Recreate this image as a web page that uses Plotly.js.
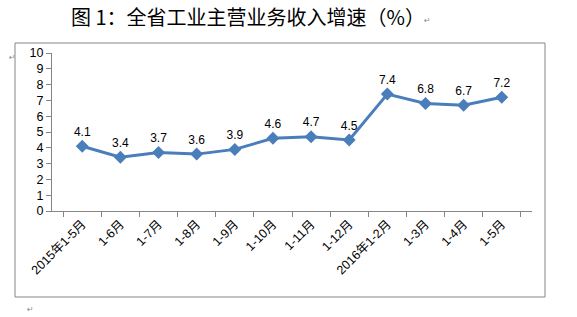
<!DOCTYPE html>
<html><head><meta charset="utf-8">
<script src="https://cdn.plot.ly/plotly-3.0.1.min.js"></script>
<style>html,body{margin:0;padding:0;background:#fff;}#chart{width:577px;height:317px;}</style>
</head><body><div id="chart"></div>
<script>
const categories = ["2015年1-5月","1-6月","1-7月","1-8月","1-9月","1-10月","1-11月","1-12月","2016年1-2月","1-3月","1-4月","1-5月"];
const growth = [4.1, 3.4, 3.7, 3.6, 3.9, 4.6, 4.7, 4.5, 7.4, 6.8, 6.7, 7.2];
const yTicks = [0,1,2,3,4,5,6,7,8,9,10];
const titleText = "图 1：全省工业主营业务收入增速（%）";

const fontFam = "Liberation Sans, Noto Sans CJK SC, sans-serif";
const trace = {
  x: categories, y: growth, type: "scatter", mode: "lines+markers+text",
  line: {color: "#4a7ebb", width: 3},
  marker: {symbol: "diamond", size: 10, color: "#4a7ebb"},
  text: growth.map(v => v.toFixed(1)),
  textposition: "top center",
  textfont: {family: fontFam, size: 12, color: "#000"},
  cliponaxis: false, hoverinfo: "none"
};
const layout = {
  width: 577, height: 317,
  margin: {l: 52, r: 45, t: 53, b: 106},
  paper_bgcolor: "#fff", plot_bgcolor: "#fff",
  showlegend: false,
  font: {family: fontFam, size: 12, color: "#000"},
  xaxis: {type: "category", tickangle: -45, showgrid: false, showline: true,
    linecolor: "#868686", linewidth: 1, ticks: "outside", ticklen: 5, tickcolor: "#868686",
    tickson: "boundaries", tickfont: {family: fontFam, size: 12.5, color: "#000"}, fixedrange: true},
  yaxis: {range: [0, 10], tickvals: yTicks, showgrid: false, zeroline: false, showline: true,
    linecolor: "#868686", linewidth: 1, ticks: "outside", ticklen: 5, tickcolor: "#868686",
    tickfont: {family: fontFam, size: 12.5, color: "#000"}, fixedrange: true},
  annotations: [
    {text: titleText, xref: "paper", yref: "paper", x: (248-52)/480, y: (211-17)/158,
     xanchor: "center", yanchor: "middle", showarrow: false,
     font: {family: "Noto Sans CJK SC", size: 20, color: "#000"}},
    {text: "↵", xref: "paper", yref: "paper", x: (427-52)/480, y: (211-20)/158,
     xanchor: "center", yanchor: "middle", showarrow: false,
     font: {family: "DejaVu Sans", size: 8, color: "#888"}},
    {text: "↵", xref: "paper", yref: "paper", x: (12-52)/480, y: (211-57)/158,
     xanchor: "center", yanchor: "middle", showarrow: false,
     font: {family: "DejaVu Sans", size: 8, color: "#888"}},
    {text: "↵", xref: "paper", yref: "paper", x: (30-52)/480, y: (211-309)/158,
     xanchor: "center", yanchor: "middle", showarrow: false,
     font: {family: "DejaVu Sans", size: 8, color: "#888"}}
  ],
  shapes: [
    {type: "rect", xref: "paper", yref: "paper", x0: (15-52)/480, x1: (545-52)/480,
     y0: (211-297)/158, y1: (211-43)/158, line: {color: "#868686", width: 1}, layer: "below"}
  ]
};
Plotly.newPlot("chart", [trace], layout, {displayModeBar: false, staticPlot: true});
</script></body></html>
